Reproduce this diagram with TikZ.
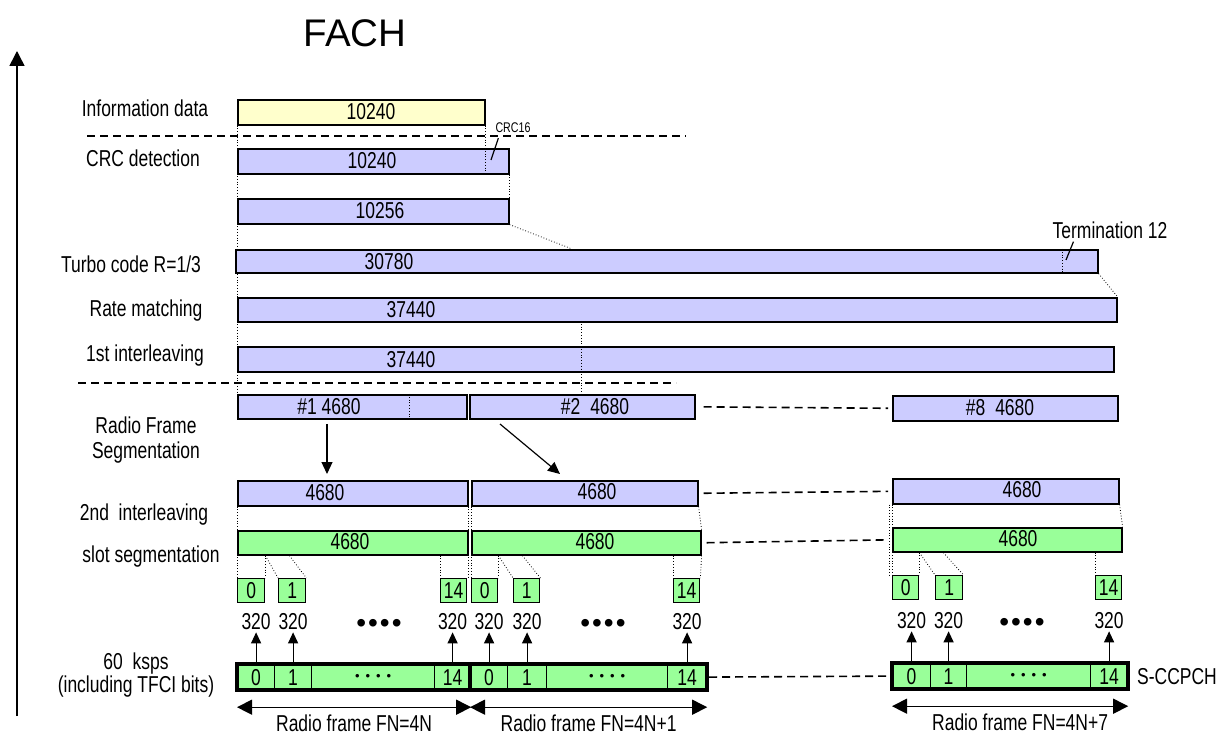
\documentclass[tikz,border=0pt]{standalone}
\usepackage{fontspec}
\setmainfont[FakeStretch=0.76]{Liberation Sans}
\newfontfamily\headfont{Liberation Sans}
\usetikzlibrary{arrows.meta,backgrounds}

\definecolor{infofill}{HTML}{FFFFCC}
\definecolor{chainfill}{HTML}{CCCCFF}
\definecolor{slotfill}{HTML}{99FF99}

\newcommand\fsz[1]{\fontsize{#1}{#1}\selectfont}
\newcommand\bigdots{{\headfont\fsz{28}•\hspace{2pt}•\hspace{2pt}•\hspace{2pt}•}}
\newcommand\smalldots{{\headfont\fsz{13}•\hspace{6pt}•\hspace{6pt}•\hspace{6pt}•}}

% one box of the chain: name, fill, x1, y1, x2, y2 (pixels)
\newcommand\chainbox[6]{\node[blk, fill=#2, minimum width=(#5-#3)*1pt, minimum height=(#6-#4)*1pt] (#1) at (#3,#4) {};}

\tikzset{
  blk/.style={draw, line width=1.6pt, inner sep=0pt, anchor=north west},
  num/.style={inner sep=0pt, font=\fsz{23}},
  lbl/.style={inner sep=0pt, font=\fsz{23}, align=center},
  slot/.style={draw, line width=1.4pt, fill=slotfill, inner sep=0pt, anchor=north west, minimum height=24pt, font=\fsz{23}},
  cell/.style={draw, line width=1.2pt, fill=slotfill, inner sep=0pt, anchor=north west, minimum height=25pt, font=\fsz{23}},
  barframe/.style={line width=3.5pt},
  guide/.style={line width=0.8pt, dotted},
  cutline/.style={line width=1.6pt, dash pattern=on 8pt off 5pt},
  bitarrow/.style={line width=1.2pt, -{Triangle[length=11pt,width=10pt]}, shorten >=2pt},
  fnspan/.style={line width=1.2pt, {Triangle[length=15pt,width=15pt]}-{Triangle[length=15pt,width=15pt]}},
  feed/.style={line width=1.2pt, -{Triangle[length=12pt,width=11pt]}},
}

\begin{document}
\begin{tikzpicture}[x=1pt, y=-1pt]
\useasboundingbox (0,0) rectangle (1219,735);

	% title and time axis
	\node[font=\headfont\fsz{38.5}] (title) at (355,33) {FACH};
	\coordinate (axbot) at (17,716);
	\coordinate (axtop) at (17,51);
	\draw[line width=1.6pt, -{Triangle[length=15pt,width=15pt]}] (axbot) -- (axtop);

	% names of the steps
	\node[lbl] (linfo) at (145,108) {Information data};
	\node[lbl] (lcrc) at (143,158) {CRC detection};
	\node[lbl] (lturbo) at (131,264) {Turbo code R=1/3};
	\node[lbl] (lrate) at (146,311) {Rate matching};
	\node[lbl] (lilv) at (145,356) {1st interleaving};
	\node[lbl, font=\fontsize{23}{25}\selectfont] (lseg) at (146,440) {Radio Frame\\Segmentation};
	\node[lbl] (lilvb) at (144,515) {2nd\ \ interleaving};
	\node[lbl] (lslot) at (151,557) {slot segmentation};
	\node[lbl, font=\fontsize{23}{18}\selectfont] (lphy) at (136,675) {60\ \ ksps\\(including TFCI bits)};

	% coding chain
	\chainbox{info}{infofill}{237}{99}{484}{124}
	\chainbox{crc}{chainfill}{237}{148}{508}{173}
	\chainbox{tail}{chainfill}{237}{198}{508}{223}
	\chainbox{turbo}{chainfill}{235}{249}{1097}{272}
	\chainbox{rate}{chainfill}{237}{297}{1116}{321}
	\chainbox{ilv}{chainfill}{237}{346}{1113}{371}

	\node[num] (ninfo) at (371,112) {10240};
	\node[num] (ncrc) at (372,161) {10240};
	\node[num] (ntail) at (380,211) {10256};
	\node[num] (nturbo) at (389,262) {30780};
	\node[num] (nrate) at (411,310) {37440};
	\node[num] (nilv) at (411,360) {37440};

	% CRC and termination bits
	\node[inner sep=0pt, font=\fsz{14}] (crclbl) at (513,128) {CRC16};
	\coordinate (crcpt) at (491,160);
	\draw[line width=1.2pt] ([xshift=3pt,yshift=-5pt]crclbl.south west) -- (crcpt);
	\node[lbl] (termlbl) at (1110,230) {Termination 12};
	\coordinate (termpt) at (1066,260);
	\draw[line width=1.2pt] ([xshift=21pt,yshift=-3pt]termlbl.south west) -- (termpt);

	% stage borders
	\coordinate (cuta0) at (87,136);
	\coordinate (cuta1) at (686,136);
	\coordinate (cutb0) at (78,383);
	\coordinate (cutb1) at (676,383);
	\draw[cutline] (cuta0) -- (cuta1);
	\draw[cutline] (cutb0) -- (cutb1);

	% radio frames
	\chainbox{rfa}{chainfill}{237}{394}{466}{418}
	\chainbox{rfb}{chainfill}{469}{394}{694}{418}
	\chainbox{rfh}{chainfill}{892}{395}{1117}{420}
	\node[num] (nrfa) at (329,407) {\#1 4680};
	\node[num] (nrfb) at (595,407) {\#2\hspace{10pt}4680};
	\node[num] (nrfh) at (1000,408) {\#8\hspace{10pt}4680};

	\chainbox{ila}{chainfill}{237}{480}{467}{505}
	\chainbox{ilb}{chainfill}{471}{480}{697}{505}
	\chainbox{ilh}{chainfill}{892}{478}{1118}{503}
	\node[num] (nila) at (325,493) {4680};
	\node[num] (nilb) at (597,492) {4680};
	\node[num] (nilh) at (1022,490) {4680};

	\chainbox{sga}{slotfill}{237}{530}{467}{554}
	\chainbox{sgb}{slotfill}{471}{530}{700}{554}
	\chainbox{sgh}{slotfill}{892}{527}{1121}{551}
	\node[num] (nsga) at (350,542) {4680};
	\node[num] (nsgb) at (595,542) {4680};
	\node[num] (nsgh) at (1018,539) {4680};

	\draw[cutline, shorten <=8pt, shorten >=4pt] (rfb.east) -- (rfh.west);
	\draw[cutline, shorten <=5pt, shorten >=4pt] (ilb.east) -- (ilh.west);
	\draw[cutline, shorten <=5pt, shorten >=4pt] (sgb.east) -- (sgh.west);

	% segmentation arrows
	\coordinate (fa0) at (327,424);
	\coordinate (fa1) at (327,474);
	\coordinate (fb0) at (500,424);
	\coordinate (fb1) at (560,474);
	\draw[feed] (fa0) -- (fa1);
	\draw[feed] (fb0) -- (fb1);

	% slots
	\foreach \f/\xa/\xb/\xc/\xd/\xe/\xg/\y in {a/237/264/278/305/440/466/578, b/471/497/513/539/673/699/578, h/892/918/935/962/1095/1121/575}{
		\node[slot, minimum width=(\xb-\xa)*1pt] (s\f0) at (\xa,\y) {0};
		\node[slot, minimum width=(\xd-\xc)*1pt] (s\f1) at (\xc,\y) {1};
		\node[slot, minimum width=(\xg-\xe)*1pt] (s\f14) at (\xe,\y) {14};
		\coordinate (q\f) at ([xshift=24pt]s\f0.north east);
	}

	% S-CCPCH frames
	\foreach \f/\xa/\xb/\xc/\xd/\xe/\y/\u/\t/\dx in {a/237/274/311/434/470/664/379/4N/0, b/470/507/546/667/706/664/603/4N+1/0, h/892/930/966/1090/1127/663/1022/4N+7/10}{
		\node[cell, minimum width=(\xb-\xa)*1pt] (c\f0) at (\xa,\y) {0};
		\node[cell, minimum width=(\xc-\xb)*1pt] (c\f1) at (\xb,\y) {1};
		\node[cell, minimum width=(\xd-\xc)*1pt] (dots\f) at (\xc,\y) {\smalldots};
		\node[cell, minimum width=(\xe-\xd)*1pt] (c\f14) at (\xd,\y) {14};
		\draw[barframe] (c\f0.north west) rectangle (c\f14.south east);
		\foreach \s in {0,1,14}{
			\node[num] (k\f\s) at ([yshift=42pt]c\f\s.north) {320};
			\draw[bitarrow] (c\f\s.north) -- (k\f\s.south);
		}
		\node[inner sep=0pt] (bd\f) at (\u,\y-38) {\bigdots};
		\draw[fnspan] ([yshift=-17pt]c\f0.south west) -- ([yshift=-17pt]c\f14.south east)
			node[midway, below=7pt, xshift=\dx pt, lbl] (fn\f) {Radio frame FN=\t};
	}
	\draw[cutline, shorten <=2pt, shorten >=4pt] (cb14.east) -- (ch0.west);
	\node[lbl] (chname) at (1177,677) {S-CCPCH};

	% dotted guides
	\draw[guide] (info.south east) -- (info.south east |- crc.south);
	\draw[guide] (crc.south east) -- (tail.north east);
	\coordinate (tmap) at (572,249);
	\draw[guide] (tail.south east) -- (tmap);
	\coordinate (tcut) at (1062,249);
	\draw[guide] (tcut) -- (tcut |- turbo.south);
	\draw[guide] (turbo.south east) -- (rate.north east);
	\coordinate (rcut) at (581,321);
	\draw[guide] (rcut) -- (rcut |- rfb.north);
	\coordinate (pcut) at (409,394);
	\draw[guide] (pcut) -- (pcut |- rfa.south);
	\foreach \f in {a,b,h}{
		\draw[guide] (s\f0.north east |- sg\f.south) -- (s\f0.north east);
		\draw[guide] (s\f0.north east |- sg\f.south) -- (s\f1.north west);
		\draw[guide] (q\f |- sg\f.south) -- (s\f1.north east);
		\draw[guide] (s\f14.north west |- sg\f.south) -- (s\f14.north west);
	}
	\begin{scope}[on background layer]
		\draw[guide] (info.south west) -- (rfa.north west);
		\draw[guide] (ila.south west) -- (sa0.north west);
		\draw[guide] (ila.south east) -- (ila.south east |- sa14.north);
		\draw[guide] (ilb.south west) -- (sb0.north west);
		\draw[guide] (ilb.south east) -- (sgb.north east);
		\draw[guide] (sgb.south east) -- (sb14.north east);
		\draw[guide] (ilh.south west) -- (sh0.north west);
		\draw[guide] ([xshift=-3pt]ilh.south west) -- ([xshift=-3pt]sh0.north west);
		\draw[guide] (ilh.south east) -- (sgh.north east);
	\end{scope}

\end{tikzpicture}
\end{document}
